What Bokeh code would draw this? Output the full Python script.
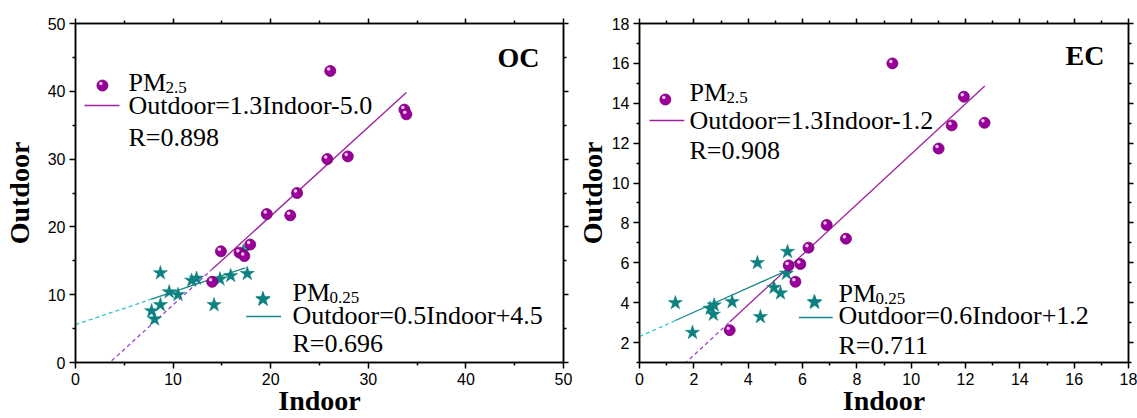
from bokeh.plotting import figure
from bokeh.models import Range1d, LinearAxis, FixedTicker, Label
from bokeh.layouts import row
from bokeh.embed import file_html
from bokeh.resources import INLINE

# ---------------- data ----------------
# OC panel
oc_pm25_in = [26.1, 33.7, 33.9, 25.8, 27.9, 22.7, 19.6, 22.0, 17.9, 14.9, 16.8, 17.3, 14.0]
oc_pm25_out = [43.0, 37.3, 36.6, 30.0, 30.4, 25.0, 21.9, 21.7, 17.4, 16.4, 16.2, 15.7, 11.9]
oc_pm025_in = [8.7, 9.6, 10.5, 8.7, 7.8, 8.1, 11.9, 12.4, 14.8, 15.9, 17.6, 14.2, 19.2, 17.2]
oc_pm025_out = [13.2, 10.4, 10.0, 8.5, 7.6, 6.4, 12.1, 12.4, 12.3, 12.8, 13.1, 8.5, 9.4, 16.4]
oc_fit25 = {"slope": 1.31, "intercept": -4.6, "solid": (14.0, 33.9), "dash": (3.7, 14.0)}
oc_fit025 = {"slope": 0.48, "intercept": 5.6, "solid": (7.7, 17.4), "dash": (0.0, 7.7)}
oc_text25 = ["Outdoor=1.3Indoor-5.0", "R=0.898"]
oc_text025 = ["Outdoor=0.5Indoor+4.5", "R=0.696"]

# EC panel
ec_pm25_in = [9.31, 11.94, 11.49, 12.70, 11.01, 6.89, 7.60, 6.22, 5.49, 5.92, 5.74, 3.32]
ec_pm25_out = [16.0, 14.33, 12.89, 13.02, 11.73, 7.9, 7.21, 6.76, 5.87, 5.94, 5.05, 2.62]
ec_pm025_in = [1.32, 1.95, 2.60, 2.75, 2.72, 3.41, 4.34, 4.45, 4.95, 5.19, 5.45, 5.41, 6.43]
ec_pm025_out = [3.99, 2.50, 3.71, 3.88, 3.41, 4.04, 6.0, 3.29, 4.76, 4.48, 6.56, 5.47, 4.04]
ec_fit25 = {"slope": 1.26, "intercept": -1.15, "solid": (3.32, 12.71), "dash": (1.66, 3.32)}
ec_fit025 = {"slope": 0.61, "intercept": 2.3, "solid": (1.32, 5.41), "dash": (0.0, 1.32)}
ec_text25 = ["Outdoor=1.3Indoor-1.2", "R=0.908"]
ec_text025 = ["Outdoor=0.6Indoor+1.2", "R=0.711"]

oc_xticks = [0, 10, 20, 30, 40, 50]
oc_yticks = [0, 10, 20, 30, 40, 50]
ec_xticks = [0, 2, 4, 6, 8, 10, 12, 14, 16, 18]
ec_yticks = [2, 4, 6, 8, 10, 12, 14, 16, 18]

# ---------------- styles ----------------
PURPLE = "#990099"
PURPLE_LINE = "#a0209e"
PURPLE_DASH = "#9a44d4"
TEAL = "#0f8080"
TEAL_LINE = "#1a8686"
TEAL_DASH = "#33c4c4"
SERIF = "Liberation Serif"
SANS = "Liberation Sans"

H = 418
TOP = 23
BOTTOM = 56
FRAME_H = H - TOP - BOTTOM
FS = 26
TEXT_DY = -10


def make_panel(xr, yr, xticks, yticks, left, frame_w, right, page_x0, ylab_standoff):
    p = figure(width=left + frame_w + right, height=H,
               x_range=Range1d(*xr), y_range=Range1d(*yr),
               output_backend="svg", toolbar_location=None,
               min_border_left=left, min_border_right=right,
               min_border_top=TOP, min_border_bottom=BOTTOM)
    p.grid.visible = False
    p.outline_line_color = "black"
    p.outline_line_width = 1.5
    p.background_fill_color = "white"
    p.border_fill_color = "white"

    xstep = xticks[1] - xticks[0]
    ystep = yticks[1] - yticks[0]
    xminor = [t + xstep / 2 for t in xticks[:-1]]
    yminor = [yr[0] + k * ystep / 2 for k in range(int((yr[1] - yr[0]) / (ystep / 2)) + 1)]
    yminor = [v for v in yminor if v not in yticks]

    for ax in (p.xaxis[0], p.yaxis[0]):
        ax.axis_line_width = 1.5
        ax.major_tick_line_width = 1.5
        ax.minor_tick_line_width = 1.5
        ax.major_tick_out = 6
        ax.major_tick_in = 0
        ax.minor_tick_out = 3
        ax.minor_tick_in = 0
        ax.major_label_text_font = SANS
        ax.major_label_text_font_size = "16px"
        ax.major_label_text_color = "black"
        ax.major_label_standoff = 4
        ax.axis_label_text_font = SERIF
        ax.axis_label_text_font_size = "28px"
        ax.axis_label_text_font_style = "bold"
        ax.axis_label_text_color = "black"
        ax.axis_label_text_line_height = 0.9
    p.xaxis[0].ticker = FixedTicker(ticks=xticks, minor_ticks=xminor)
    p.yaxis[0].ticker = FixedTicker(ticks=yticks, minor_ticks=yminor)
    p.xaxis[0].axis_label = "Indoor"
    p.xaxis[0].axis_label_standoff = -3
    p.yaxis[0].axis_label = "Outdoor"
    p.yaxis[0].axis_label_standoff = ylab_standoff

    top = LinearAxis(ticker=FixedTicker(ticks=xticks, minor_ticks=xminor))
    rgt = LinearAxis(ticker=FixedTicker(ticks=yticks, minor_ticks=yminor))
    for ax in (top, rgt):
        ax.axis_line_width = 1.5
        ax.major_tick_line_width = 1.5
        ax.minor_tick_line_width = 1.5
        ax.major_tick_out = 5
        ax.major_tick_in = 0
        ax.minor_tick_out = 3
        ax.minor_tick_in = 0
        ax.major_label_text_font_size = "0px"
        ax.major_label_standoff = 0
    p.add_layout(top, "above")
    p.add_layout(rgt, "right")

    sx = (xr[1] - xr[0]) / frame_w
    sy = (yr[1] - yr[0]) / FRAME_H
    page_y0 = H - BOTTOM  # page y of the frame bottom

    def to_data(px, py):
        return xr[0] + (px - page_x0) * sx, yr[0] + (page_y0 - py) * sy

    def text(px, py, s, size, bold=False, align="left"):
        p.add_layout(Label(x=px - page_x0, y=page_y0 - (py + TEXT_DY), x_units="screen", y_units="screen",
                           text=s, text_font=SERIF, text_font_size=f"{size}px",
                           text_font_style="bold" if bold else "normal",
                           text_align=align, text_baseline="alphabetic",
                           text_color="black"))

    return p, to_data, text, sx, sy


def draw_fit(p, fit, color_solid, color_dash):
    xs = list(fit["solid"])
    p.line(xs, [fit["slope"] * x + fit["intercept"] for x in xs], line_color=color_solid, line_width=1.3)
    xd = list(fit["dash"])
    p.line(xd, [fit["slope"] * x + fit["intercept"] for x in xd], line_color=color_dash,
           line_width=1.3, line_dash="4 3")


def spheres(p, xs, ys, sx, sy):
    p.scatter(xs, ys, marker="circle", size=11, fill_color=PURPLE, line_color="#720072", line_width=0.8)
    hx = [x - 1.6 * sx for x in xs]
    hy = [y + 2.0 * sy for y in ys]
    p.scatter(hx, hy, marker="circle", size=3.5, fill_color="#f4c8f4", line_color=None)


def stars(p, xs, ys):
    p.scatter(xs, ys, marker="star", size=15, fill_color=TEAL, line_color=TEAL, line_width=0.5)


def legend_block(p, to_data, text, sx, sy, marker, mpos, line_pos, tx, base_pm, sub, base_eq, base_r,
                 lines, line_color):
    mx, my = to_data(*mpos)
    if marker == "sphere":
        spheres(p, [mx], [my], sx, sy)
    else:
        stars(p, [mx], [my])
    lx0, ly, lx1 = line_pos
    a, b = to_data(lx0, ly)
    c, _ = to_data(lx1, ly)
    p.line([a, c], [b, b], line_color=line_color, line_width=1.3)
    text(tx, base_pm, "PM", FS)
    text(tx + 37, base_pm + 5, sub, 17)
    text(tx, base_eq, lines[0], FS)
    text(tx, base_r, lines[1], FS)


# ---------------- OC panel ----------------
p1, td1, tx1, sx1, sy1 = make_panel((0, 50), (0, 50), oc_xticks, oc_yticks, 74, 489, 10, 74, 10)
draw_fit(p1, oc_fit25, PURPLE_LINE, PURPLE_DASH)
draw_fit(p1, oc_fit025, TEAL_LINE, TEAL_DASH)
stars(p1, oc_pm025_in, oc_pm025_out)
spheres(p1, oc_pm25_in, oc_pm25_out, sx1, sy1)
legend_block(p1, td1, tx1, sx1, sy1, "sphere", (101, 85), (83, 105, 118), 127, 92, "2.5", 115, 147,
             oc_text25, PURPLE_LINE)
legend_block(p1, td1, tx1, sx1, sy1, "star", (262, 299), (245, 316, 280), 291, 302, "0.25", 325, 353,
             oc_text025, TEAL_LINE)
tx1(538, 67, "OC", 28, bold=True, align="right")

# ---------------- EC panel ----------------
p2, td2, tx2, sx2, sy2 = make_panel((0, 18), (1, 18), ec_xticks, ec_yticks, 64, 491, 9, 637, 1)
draw_fit(p2, ec_fit25, PURPLE_LINE, PURPLE_DASH)
draw_fit(p2, ec_fit025, TEAL_LINE, TEAL_DASH)
stars(p2, ec_pm025_in, ec_pm025_out)
spheres(p2, ec_pm25_in, ec_pm25_out, sx2, sy2)
legend_block(p2, td2, tx2, sx2, sy2, "sphere", (663, 99), (647, 120, 682), 687, 102, "2.5", 130, 160,
             ec_text25, PURPLE_LINE)
legend_block(p2, td2, tx2, sx2, sy2, "star", (813, 302), (797, 317, 831), 836, 303, "0.25", 325, 355,
             ec_text025, TEAL_LINE)
tx2(1102, 65, "EC", 28, bold=True, align="right")

layout = row(p1, p2)
open("out.html", "w").write(file_html(layout, INLINE))
